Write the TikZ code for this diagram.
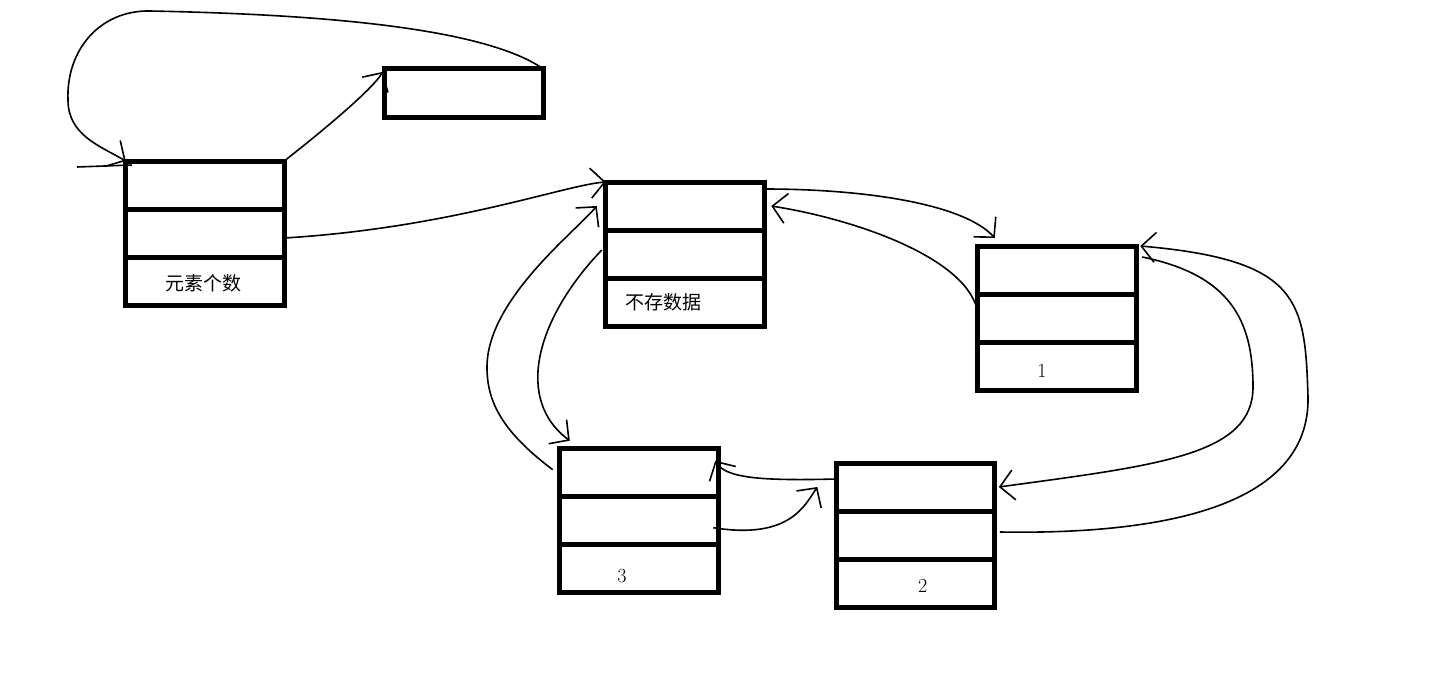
\documentclass[tikz,border=0pt]{standalone}
\usepackage{fontspec}
\newfontfamily\cjk{Noto Sans CJK SC}
\usetikzlibrary{positioning, arrows.meta}
\tikzset{
  linked/.style={
	->, % every connector ends in a head
	>={Straight Barb[length=14pt,width=30pt]}, % open, hand drawn looking head
	line width=1.6pt, % thin pen for the pointers
	x=1pt, y=-1pt, % pixel coordinates, y going down
  },
  cell/.style={draw, line width=5pt, minimum width=158.5pt, minimum height=48pt,
	inner sep=0pt, outer sep=0pt}, % one row of a list node
  txt/.style={font=\fontsize{20}{22}\selectfont, inner sep=0pt},
  zh/.style={font=\cjk\fontsize{19}{21}\selectfont, inner sep=0pt},
}
\begin{document}
\begin{tikzpicture}[linked]
	  \useasboundingbox (0,0) rectangle (1441,696);
	  % head and its last pointer
	  \node[cell] (h1) at (205,185) {};
	  \node[cell, below=0pt of h1] (h2) {};
	  \node[cell, below=0pt of h2] (h3) {};
	  \node[cell, minimum height=48.3pt] (last) at (464,93) {};
	  % sentinel
	  \node[cell] (s1) at (685,206) {};
	  \node[cell, below=0pt of s1] (s2) {};
	  \node[cell, below=0pt of s2] (s3) {};
	  % nodes 1, 2, 3
	  \node[cell] (a1) at (1057,270) {};
	  \node[cell, below=0pt of a1] (a2) {};
	  \node[cell, below=0pt of a2] (a3) {};
	  \node[cell] (b1) at (915.6,487) {};
	  \node[cell, below=0pt of b1] (b2) {};
	  \node[cell, below=0pt of b2] (b3) {};
	  \node[cell] (c1) at (639,472.7) {};
	  \node[cell, below=0pt of c1] (c2) {};
	  \node[cell, below=0pt of c2] (c3) {};

	  \node[zh, xshift=-2pt, yshift=-2pt] (t0) at (h3) {元素个数};
	  \node[zh, xshift=-22pt] (ts) at (s3) {不存数据};
	  \node[txt, xshift=-15pt, yshift=-5pt] (ta) at (a3) {1};
	  \node[txt, xshift=7pt, yshift=-3pt] (tb) at (b3) {2};
	  \node[txt, xshift=-17pt, yshift=-7pt] (tc) at (c3) {3};

	  \coordinate (hin) at (77,167);
	  \draw[-] (hin) -- ([xshift=6pt,yshift=-4pt]h1.north west);
	  \draw (last.north east) .. controls (480,25) and (300,14) .. (150,11)
		.. controls (100,10) and (66,50) .. (68,100)
		.. controls (68,135) and (100,146) .. (h1.north west);
	  \draw (h1.north east) .. controls (320,133) and (372,90) .. ([xshift=-2pt,yshift=-3pt]last.north west);
	  \draw ([yshift=-5pt]h2.east) .. controls (450,228) and (565,185) .. (s1.north west);
	  \draw ([yshift=-7pt]s1.north east) .. controls (870,189) and (965,205) .. ([xshift=17pt,yshift=8pt]a1.north west);
	  \draw ([yshift=5pt]a2.west) .. controls (970,260) and (860,220) .. ([xshift=7pt]s1.east);
	  \draw ([xshift=6pt,yshift=-11pt]a1.north east) .. controls (1230,275) and (1253,320) .. (1253,387)
		.. controls (1253,455) and (1160,465) .. ([xshift=4pt]b1.east);
	  \draw ([xshift=5pt,yshift=3pt]b2.east) .. controls (1180,535) and (1310,500) .. (1308,397)
		.. controls (1305,300) and (1300,260) .. ([xshift=4pt]a1.north east);
	  \draw ([yshift=8pt]b1.west) .. controls (760,481) and (725,478) .. ([xshift=-3pt,yshift=12pt]c1.east);
	  \draw ([xshift=-5pt,yshift=-7pt]c2.east) .. controls (790,540) and (805,505) .. ([xshift=-19pt]b1.west);
	  \draw ([xshift=-7pt,yshift=3pt]c1.west) .. controls (500,430) and (487,400) .. (487,367)
		.. controls (487,300) and (575,232) .. ([xshift=-9pt]s1.west);
	  \draw ([xshift=-4pt,yshift=4pt]s2.west) .. controls (535,320) and (515,400) .. ([xshift=10pt,yshift=8pt]c1.north west);
\end{tikzpicture}
\end{document}
